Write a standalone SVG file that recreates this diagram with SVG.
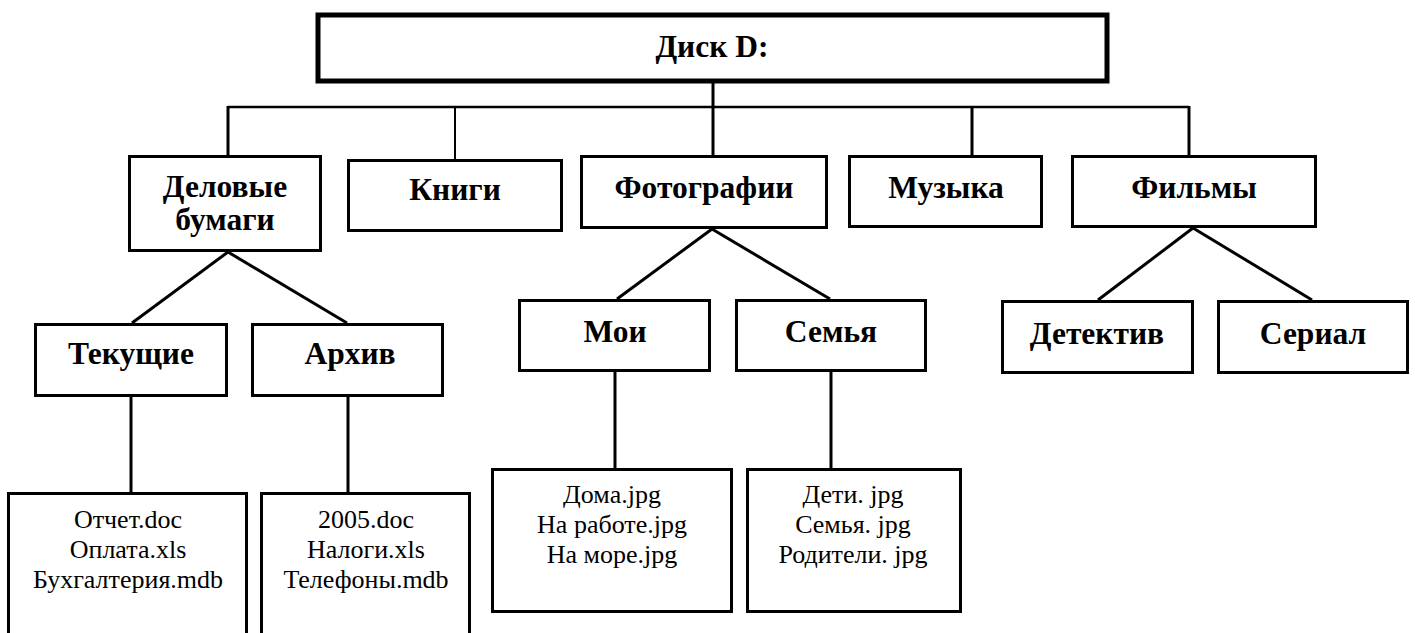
<svg xmlns="http://www.w3.org/2000/svg" width="1415" height="633" viewBox="0 0 1415 633">
<style>
  .box { fill: #fff; stroke: #000; stroke-width: 3; }
  .root { fill: #fff; stroke: #000; stroke-width: 5; }
  .lbl { font-family: 'Liberation Serif', 'DejaVu Serif', serif; font-weight: bold; font-size: 31.5px; text-anchor: middle; fill: #000; }
  .file { font-family: 'Liberation Serif', 'DejaVu Serif', serif; font-size: 26px; text-anchor: middle; fill: #000; }
  .conn line { stroke: #000; stroke-width: 3; }
</style>
<rect width="1415" height="633" fill="#fff"/>
<g id="connectors" class="conn">
  <line x1="713" y1="83" x2="713" y2="155"/>
  <line x1="228" y1="107" x2="1189" y2="107" style="stroke-width:2.5"/>
  <line x1="228" y1="106" x2="228" y2="155"/>
  <line x1="455" y1="107" x2="455" y2="159" style="stroke-width:2"/>
  <line x1="972" y1="107" x2="972" y2="155"/>
  <line x1="1189" y1="106" x2="1189" y2="155"/>
  <line x1="228" y1="252" x2="132" y2="323"/>
  <line x1="228" y1="252" x2="347" y2="323"/>
  <line x1="131" y1="397" x2="131" y2="492"/>
  <line x1="348" y1="397" x2="348" y2="492"/>
  <line x1="712" y1="229" x2="617" y2="299"/>
  <line x1="712" y1="229" x2="830" y2="299"/>
  <line x1="615" y1="372" x2="615" y2="468"/>
  <line x1="831" y1="372" x2="831" y2="468"/>
  <line x1="1193" y1="228" x2="1098" y2="300"/>
  <line x1="1193" y1="228" x2="1312" y2="300"/>
</g>
<g id="disk-d">
  <rect class="root" x="318" y="15" width="789" height="66"/>
  <text class="lbl" x="712" y="57">Диск D:</text>
</g>
<g id="delovye">
  <rect class="box" x="129.5" y="156.5" width="191" height="94"/>
  <text class="lbl" x="225" y="197">Деловые</text>
  <text class="lbl" x="225" y="230">бумаги</text>
</g>
<g id="knigi">
  <rect class="box" x="348.5" y="160.5" width="213" height="70"/>
  <text class="lbl" x="455" y="200">Книги</text>
</g>
<g id="foto">
  <rect class="box" x="581.5" y="156.5" width="245" height="71"/>
  <text class="lbl" x="704" y="198">Фотографии</text>
</g>
<g id="muzyka">
  <rect class="box" x="849.5" y="156.5" width="192" height="70"/>
  <text class="lbl" x="946" y="198">Музыка</text>
</g>
<g id="filmy">
  <rect class="box" x="1072.5" y="156.5" width="243" height="70"/>
  <text class="lbl" x="1194" y="198">Фильмы</text>
</g>
<g id="tekushchie">
  <rect class="box" x="35.5" y="324.5" width="191" height="71"/>
  <text class="lbl" x="131" y="364">Текущие</text>
</g>
<g id="arkhiv">
  <rect class="box" x="252.5" y="324.5" width="190" height="71"/>
  <text class="lbl" x="350" y="364">Архив</text>
</g>
<g id="moi">
  <rect class="box" x="519.5" y="300.5" width="190" height="70"/>
  <text class="lbl" x="615" y="342">Мои</text>
</g>
<g id="semya">
  <rect class="box" x="736.5" y="300.5" width="189" height="70"/>
  <text class="lbl" x="831" y="342">Семья</text>
</g>
<g id="detektiv">
  <rect class="box" x="1002.5" y="301.5" width="190" height="71"/>
  <text class="lbl" x="1097" y="344">Детектив</text>
</g>
<g id="serial">
  <rect class="box" x="1218.5" y="301.5" width="189" height="71"/>
  <text class="lbl" x="1313" y="344">Сериал</text>
</g>
<g id="files-tekushchie">
  <rect class="box" x="8.5" y="493.5" width="238" height="150"/>
  <text class="file" x="128" y="528">Отчет.doc</text>
  <text class="file" x="128" y="558">Оплата.xls</text>
  <text class="file" x="128" y="588">Бухгалтерия.mdb</text>
</g>
<g id="files-arkhiv">
  <rect class="box" x="261.5" y="493.5" width="208" height="150"/>
  <text class="file" x="366" y="528">2005.doc</text>
  <text class="file" x="366" y="558">Налоги.xls</text>
  <text class="file" x="366" y="588">Телефоны.mdb</text>
</g>
<g id="files-moi">
  <rect class="box" x="492.5" y="469.5" width="239" height="142"/>
  <text class="file" x="612" y="503">Дома.jpg</text>
  <text class="file" x="612" y="533">На работе.jpg</text>
  <text class="file" x="612" y="563">На море.jpg</text>
</g>
<g id="files-semya">
  <rect class="box" x="747.5" y="469.5" width="213" height="142"/>
  <text class="file" x="853" y="503">Дети. jpg</text>
  <text class="file" x="853" y="533">Семья. jpg</text>
  <text class="file" x="853" y="563">Родители. jpg</text>
</g>
</svg>
